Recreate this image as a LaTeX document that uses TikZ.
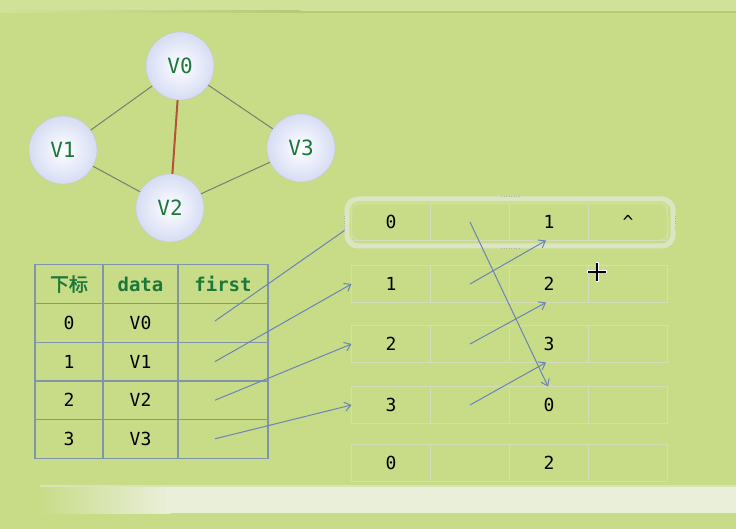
\documentclass[tikz,border=0pt]{standalone}
\usepackage{fontspec}
\setmonofont{DejaVu Sans Mono}
\newfontfamily\cjk[AutoFakeBold=2]{Noto Sans CJK SC}
\usetikzlibrary{arrows.meta, positioning, shapes.geometric}

\definecolor{bggreen}{RGB}{200,220,136}
\definecolor{topband}{RGB}{208,226,152}
\definecolor{topline}{RGB}{182,202,116}
\definecolor{barc}{RGB}{234,239,218}
\definecolor{vfill}{RGB}{214,220,244}
\definecolor{vgreen}{RGB}{26,120,58}
\definecolor{gedgec}{RGB}{118,128,112}
\definecolor{redge}{RGB}{182,82,58}
\definecolor{tabline}{RGB}{128,148,172}
\definecolor{ecellc}{RGB}{212,220,186}
\definecolor{linkc}{RGB}{106,132,184}
\definecolor{selc}{RGB}{226,232,210}

\begin{document}
\begin{tikzpicture}[x=1pt, y=-1pt,
    vert/.style={circle, draw=black!22, inner color=white, outer color=vfill, minimum size=68pt, inner sep=0pt, font=\ttfamily\fontsize{21}{21}\selectfont, text=vgreen},
    gedge/.style={draw=gedgec, line width=1pt},
    tcell/.style={rectangle, draw=tabline, line width=1.2pt, minimum height=38.6pt, inner sep=0pt, outer sep=0pt, font=\ttfamily\fontsize{18}{18}\selectfont},
    thead/.style={tcell, text=vgreen, font=\ttfamily\bfseries\fontsize{19}{19}\selectfont},
    ecell/.style={rectangle, draw=ecellc, line width=1pt, minimum width=79pt, minimum height=37pt, inner sep=0pt, outer sep=0pt, font=\ttfamily\fontsize{18}{18}\selectfont},
    link/.style={draw=linkc, line width=1pt, -{Straight Barb[length=6pt, width=9pt]}},
    handle/.style={draw=black!30, line width=1pt, dash pattern=on 1pt off 1.5pt}
  ]

  % background
  \useasboundingbox (0,0) rectangle (736,529);
  \fill[bggreen] (0,0) rectangle (736,529);
  \fill[topband] (0,0) rectangle (736,12);
  \shade[left color=topband, right color=topline] (0,11) rectangle (300,13);
  \fill[topline] (300,11) rectangle (736,13);

  % graph
  \node[vert] (v0) at (180,66) {V0};
  \node[vert] (v1) at (63,150) {V1};
  \node[vert] (v3) at (301,148) {V3};
  \node[vert] (v2) at (170,208) {V2};
  \draw[gedge] (v0) -- (v1);
  \draw[gedge] (v0) -- (v3);
  \draw[gedge] (v1) -- (v2);
  \draw[gedge] (v2) -- (v3);
  \draw[draw=redge, line width=2pt] (v0) -- (v2);

  % vertex table
  \node[thead, minimum width=68pt] (hd0) at (69,284) {\cjk\bfseries 下标};
  \node[thead, minimum width=75pt, right=0pt of hd0] (hd1) {data};
  \node[thead, minimum width=90pt, right=0pt of hd1] (hd2) {first};
  \foreach \r/\y in {0/323, 1/361.6, 2/400.2, 3/438.8} {
    \node[tcell, minimum width=68pt] (idx\r) at (69,\y) {\r};
    \node[tcell, minimum width=75pt, right=0pt of idx\r] (dat\r) {V\r};
    \node[tcell, minimum width=90pt, right=0pt of dat\r] (fst\r) {};
  }

  % edge list
  \foreach \r/\y/\a/\c/\d in {1/222/0/1/\textasciicircum, 2/284/1/2/{}, 3/344/2/3/{}, 4/405/3/0/{}, 5/463/0/2/{}} {
    \node[ecell] (e\r a) at (391,\y) {\a};
    \node[ecell, right=0pt of e\r a] (e\r b) {};
    \node[ecell, right=0pt of e\r b] (e\r c) {\c};
    \node[ecell, right=0pt of e\r c] (e\r d) {\d};
  }

  % selection frame round the first edge
  \node[draw=selc, line width=5pt, rounded corners=11pt, minimum width=326pt, minimum height=47pt, opacity=0.8] (sel) at (510,222.5) {};
  \draw[ecellc, line width=1pt, rounded corners=8pt] (351.5,203.5) rectangle (667.5,240.5);
  \draw[handle] ([xshift=-9pt]sel.north) -- ([xshift=9pt]sel.north);
  \draw[handle] ([xshift=-9pt]sel.south) -- ([xshift=9pt]sel.south);
  \draw[handle] ([yshift=-7pt]sel.west) -- ([yshift=7pt]sel.west);
  \draw[handle] ([yshift=-7pt]sel.east) -- ([yshift=7pt]sel.east);

  % links
  \draw[draw=linkc, line width=1pt] ([xshift=-8pt, yshift=2pt]fst0.center) -- ([yshift=-8pt]sel.west);
  \draw[link] ([xshift=-8pt]fst1.center) -- (e2a.west);
  \draw[link] ([xshift=-8pt]fst2.center) -- (e3a.west);
  \draw[link] ([xshift=-8pt]fst3.center) -- (e4a.west);
  \draw[link] (e1b.center) -- ([xshift=-1pt]e4c.north);
  \draw[link] (e2b.center) -- ([xshift=-3pt]e1c.south);
  \draw[link] (e3b.center) -- ([xshift=-3pt]e2c.south);
  \draw[link] (e4b.center) -- ([xshift=-3pt]e3c.south);

  % cursor
  \draw[white, line width=3pt] (587,272) -- (607,272) (597,262) -- (597,282);
  \draw[black, line width=1.2pt] (588,272) -- (606,272) (597,263) -- (597,281);

  % bottom bar
  \fill[black!8, opacity=0.5] (40,485) rectangle (736,488);
  \shade[left color=bggreen, right color=barc] (40,487) rectangle (170,513);
  \fill[barc] (170,487) rectangle (736,513);
\end{tikzpicture}
\end{document}
